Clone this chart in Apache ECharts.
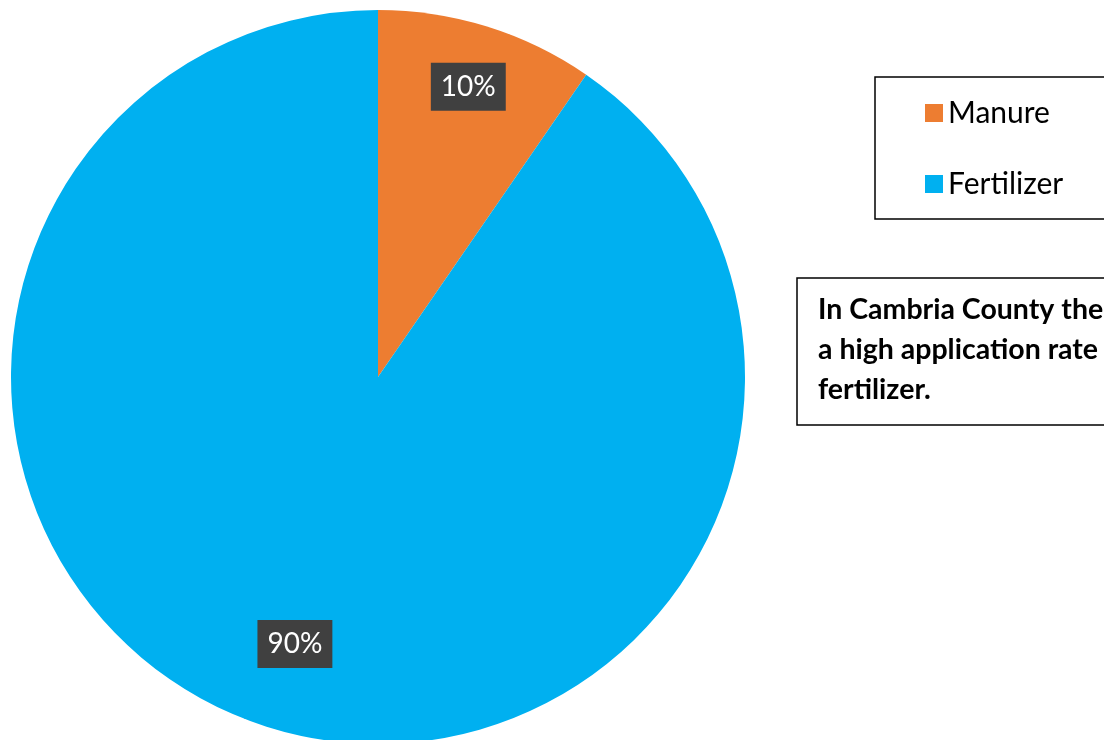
<!DOCTYPE html>
<html><head><meta charset="utf-8">
<script src="https://cdn.jsdelivr.net/npm/echarts@6/dist/echarts.min.js"></script>
<style>html,body{margin:0;padding:0;background:#fff;}#c{width:1104px;height:740px;}</style>
</head><body><div id="c"></div>
<script>
const categories = ['Manure', 'Fertilizer'];
const values = [9.6, 90.4];
const colors = ['#ED7D31', '#00B0F0'];
const noteText = 'In Cambria County there is\na high application rate of\nfertilizer.';

const center = [378, 377];
const labelRadiusFactor = [1.63, 1.5];

const chart = echarts.init(document.getElementById('c'), null, {renderer: 'canvas'});
chart.setOption({
  animation: false,
  backgroundColor: '#fff',
  title: {
    text: noteText,
    left: 797, top: 278,
    padding: [12, 400, 15, 21],
    borderColor: '#000', borderWidth: 1.5,
    textStyle: {fontFamily: 'Lato', fontWeight: 'bold', fontSize: 28.5, lineHeight: 40, color: '#000'}
  },
  legend: {
    orient: 'vertical',
    left: 875, top: 77,
    padding: [21, 200, 20, 50],
    itemGap: 41,
    itemWidth: 18, itemHeight: 18,
    itemTextGap: 11,
    icon: 'rect',
    borderColor: '#000', borderWidth: 1.5,
    textStyle: {fontFamily: 'Lato', fontSize: 30, lineHeight: 30, color: '#000'},
    data: categories
  },
  series: [{
    type: 'pie',
    center: center,
    radius: [0, 367],
    startAngle: 90,
    clockwise: true,
    itemStyle: {borderWidth: 0},
    label: {
      position: 'inside',
      formatter: function (p) { return Math.round(p.percent) + '%'; },
      fontFamily: 'Lato', fontSize: 28, lineHeight: 28, color: '#fff',
      backgroundColor: '#404040',
      padding: [10, 10]
    },
    labelLayout: function (p) {
      const r = p.labelRect;
      const cx = r.x + r.width / 2, cy = r.y + r.height / 2;
      const k = labelRadiusFactor[p.dataIndex];
      return {
        x: center[0] + (cx - center[0]) * k,
        y: center[1] + (cy - center[1]) * k,
        align: 'center', verticalAlign: 'middle'
      };
    },
    emphasis: {disabled: true},
    data: categories.map((n, i) => ({name: n, value: values[i], itemStyle: {color: colors[i]}}))
  }]
});
</script></body></html>
